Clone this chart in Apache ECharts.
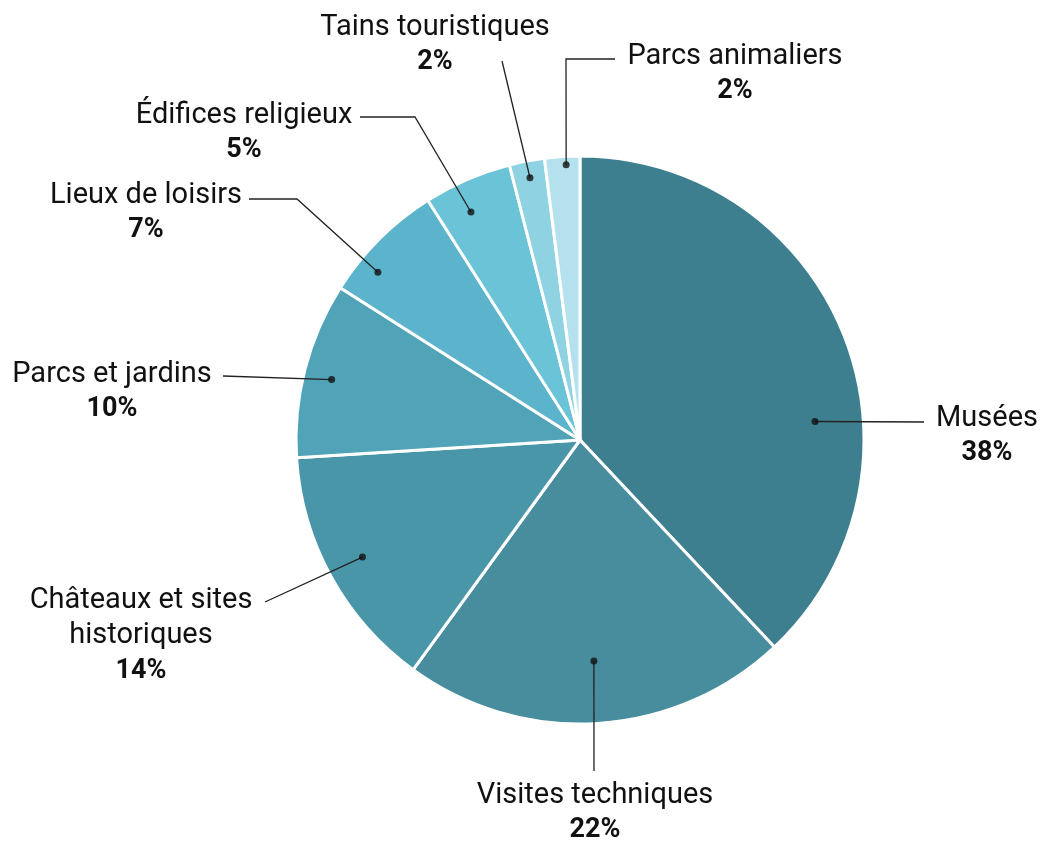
<!DOCTYPE html>
<html>
<head>
<meta charset="utf-8">
<title>Pie</title>
<script src="https://cdn.jsdelivr.net/npm/echarts@6/dist/echarts.min.js"></script>
<style>
  html, body { margin: 0; padding: 0; background: #fff; }
  #chart { width: 1040px; height: 841px; }
</style>
</head>
<body>
<div id="chart"></div>
<script>
// data
const categories = ['Musées', 'Visites techniques', 'Châteaux et sites historiques', 'Parcs et jardins',
  'Lieux de loisirs', 'Édifices religieux', 'Tains touristiques', 'Parcs animaliers'];
const shares = [38, 22, 14, 10, 7, 5, 2, 2];
const sliceColors = ['#3e7f8f', '#478d9d', '#4a96a9', '#51a3b7', '#5bb4cb', '#6ac3d7', '#8fd3e2', '#b5e1ee'];

// callout layout: dot inside its slice (fraction of slice, fraction of radius),
// bends of the leader line, label centre
const CX = 580, CY = 440, R = 284;
const anchors = [[0.625, 0.83], [0.5, 0.78], [0.51, 0.87], [0.48, 0.9], [0.29, 0.925], [0.38, 0.89], [0.5, 0.94], [0.6, 0.97]];
const guides = [
  [[924, 422]],
  [[594, 771]],
  [[265, 602]],
  [[223, 376]],
  [[297, 199], [249, 199]],
  [[415, 117], [360, 117]],
  [[502, 61]],
  [[566, 59], [615, 59]]
];
const labelSpots = [[987, 436], [595, 813], [141, 636], [112, 392], [146, 213], [244, 133], [435, 45], [735, 74]];

// angle (in % of the circle) of each dot
let acc = 0;
const dotAngles = shares.map((v, i) => {
  const a = acc + anchors[i][0] * v;
  acc += v;
  return a;
});
const dotPixel = i => {
  const t = dotAngles[i] / 100 * Math.PI * 2;
  const r = anchors[i][1] * R;
  return [CX + r * Math.sin(t), CY - r * Math.cos(t)];
};

function wrap(name) {
  if (name.length < 22) return name;
  const cut = name.lastIndexOf(' ', 18);
  return name.slice(0, cut) + '\n' + name.slice(cut + 1);
}

const pieData = categories.map((c, i) => ({ name: c, value: shares[i], itemStyle: { color: sliceColors[i] } }));

const chart = echarts.init(document.getElementById('chart'));
chart.setOption({
  animation: false,
  textStyle: { fontFamily: 'Roboto' },
  polar: { center: [CX, CY], radius: R },
  angleAxis: { type: 'value', min: 0, max: 100, startAngle: 90, clockwise: true, show: false },
  radiusAxis: { type: 'value', min: 0, max: 1, show: false },
  series: [
    {
      type: 'pie',
      center: [CX, CY],
      radius: R,
      startAngle: 90,
      clockwise: true,
      silent: true,
      z: 2,
      data: pieData,
      itemStyle: { borderColor: '#fff', borderWidth: 3 },
      label: { show: false },
      labelLine: { show: false }
    },
    {
      // transparent copy on top, carries the labels and leader lines
      type: 'pie',
      center: [CX, CY],
      radius: R,
      startAngle: 90,
      clockwise: true,
      silent: true,
      avoidLabelOverlap: false,
      z: 4,
      data: pieData.map(d => ({ name: d.name, value: d.value })),
      itemStyle: { color: 'rgba(0,0,0,0)', borderWidth: 0 },
      label: {
        show: true,
        position: 'outside',
        align: 'center',
        verticalAlign: 'middle',
        formatter: p => wrap(p.name).split('\n').map(s => '{n|' + s + '}').join('\n') + '\n{p|' + p.value + '%}',
        rich: {
          n: { fontFamily: 'Roboto', fontSize: 29, color: '#111', lineHeight: 35, align: 'center' },
          p: { fontFamily: 'Roboto', fontSize: 27, fontWeight: 'bold', color: '#111', lineHeight: 35, align: 'center' }
        }
      },
      labelLine: { show: true, lineStyle: { color: '#222', width: 1.3 } },
      labelLayout: params => {
        const i = params.dataIndex;
        return {
          x: labelSpots[i][0],
          y: labelSpots[i][1],
          align: 'center',
          verticalAlign: 'middle',
          labelLinePoints: [dotPixel(i)].concat(guides[i])
        };
      }
    },
    {
      type: 'scatter',
      coordinateSystem: 'polar',
      z: 6,
      silent: true,
      symbolSize: 7,
      itemStyle: { color: '#111' },
      data: anchors.map((a, i) => [a[1], dotAngles[i]])
    }
  ]
});
</script>
</body>
</html>
